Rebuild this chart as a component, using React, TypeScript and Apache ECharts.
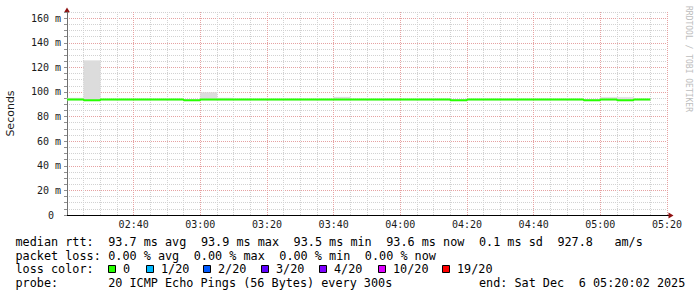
import React, { useEffect, useRef } from 'react';
import * as echarts from 'echarts';

// 5-minute interval boundaries (35 intervals)
const timeBoundaries = [
  '02:20', '02:25', '02:30', '02:35', '02:40', '02:45', '02:50', '02:55',
  '03:00', '03:05', '03:10', '03:15', '03:20', '03:25', '03:30', '03:35',
  '03:40', '03:45', '03:50', '03:55', '04:00', '04:05', '04:10', '04:15',
  '04:20', '04:25', '04:30', '04:35', '04:40', '04:45', '04:50', '04:55',
  '05:00', '05:05', '05:10', '05:15',
];

// median RTT per interval (ms)
const medianRtt = [
  93.9, 93.3, 93.9, 93.9, 93.9, 93.9, 93.9, 93.3,
  93.9, 93.9, 93.9, 93.9, 93.9, 93.9, 93.9, 93.9,
  93.9, 93.9, 93.9, 93.9, 93.9, 93.9, 93.9, 93.3,
  93.9, 93.9, 93.9, 93.9, 93.9, 93.9, 93.9, 93.3,
  93.9, 93.3, 93.9,
];

// smoke (ping spread) per interval (ms)
const smokeMin = [
  93.3, 92.8, 93.3, 93.3, 93.3, 93.3, 93.3, 92.8,
  93.3, 93.3, 93.3, 93.3, 93.3, 93.3, 93.3, 93.3,
  93.3, 93.3, 93.3, 93.3, 93.3, 93.3, 93.3, 92.8,
  93.3, 93.3, 93.3, 93.3, 93.3, 93.3, 93.3, 92.8,
  93.3, 92.8, 93.3,
];
const smokeMax = [
  95.0, 125.5, 94.3, 94.3, 94.3, 94.3, 94.3, 93.8,
  99.6, 95.0, 94.3, 94.3, 94.3, 94.3, 94.3, 94.3,
  95.8, 94.3, 94.3, 94.3, 94.3, 94.3, 94.3, 93.8,
  94.3, 94.3, 94.3, 94.3, 94.3, 94.3, 94.3, 93.8,
  95.6, 95.6, 94.3,
];

const xStart = '02:20';
const xEnd = '05:20';
const yMin = 0;
const yMax = 165;

const statsRttLabel = 'median rtt:';
const statsRtt = ['93.7 ms avg', '93.9 ms max', '93.5 ms min', '93.6 ms now', '0.1 ms sd', '927.8', 'am/s'];
const statsLossLabel = 'packet loss:';
const statsLoss = ['0.00 % avg', '0.00 % max', '0.00 % min', '0.00 % now'];
const lossColorLabel = 'loss color:';
const lossLabels = ['0', '1/20', '2/20', '3/20', '4/20', '10/20', '19/20'];
const lossColors = ['#26ff00', '#00b8ff', '#0059ff', '#5e00ff', '#7e00ff', '#dd00ff', '#ff0000'];
const probeLabel = 'probe:';
const probeText = '20 ICMP Echo Pings (56 Bytes) every 300s';
const endText = ['end: Sat Dec', '6 05:20:02 2025'];
const yAxisName = 'Seconds';
const watermark = 'RRDTOOL / TOBI OETIKER';

const toMin = (s: string) => {
  const [h, m] = s.split(':').map(Number);
  return h * 60 + m;
};

const MONO = '"DejaVu Sans Mono", monospace';
const MAJOR = '#e6a2a2';
const MINOR = '#d2d2d2';

export default function App() {
  const ref = useRef<HTMLDivElement>(null);

  useEffect(() => {
    if (!ref.current) return;
    const chart = echarts.init(ref.current, null, { renderer: 'svg' });

    const last = medianRtt.length - 1;
    const pick = (arr: number[], i: number) => arr[Math.min(i, last)];
    const medianData = timeBoundaries.map((t, i) => [toMin(t), pick(medianRtt, i)]);
    const smokeData = medianRtt.map((_, i) => [
      toMin(timeBoundaries[i]),
      toMin(timeBoundaries[i + 1]),
      smokeMin[i],
      smokeMax[i],
    ]);

    const colX = (c: number) => 15.5 + c * 7.13;
    const rowY = [241.5, 255.5, 269, 283];
    const txt = (text: string, x: number, y: number, extra: any = {}) => ({
      type: 'text',
      x,
      y,
      silent: true,
      style: { text, font: `11.8px ${MONO}`, fill: '#000', align: 'left', verticalAlign: 'middle', ...extra },
    });

    const graphics: any[] = [];
    graphics.push(txt(statsRttLabel, colX(0), rowY[0]));
    [13, 26, 39, 52, 65, 76, 84].forEach((c, i) => graphics.push(txt(statsRtt[i], colX(c), rowY[0])));
    graphics.push(txt(statsLossLabel, colX(0), rowY[1]));
    [13, 25, 37, 49].forEach((c, i) => graphics.push(txt(statsLoss[i], colX(c), rowY[1])));
    graphics.push(txt(lossColorLabel, colX(0), rowY[2]));
    const boxX = [108, 146, 203, 261, 319, 378, 442];
    lossLabels.forEach((l, i) => {
      graphics.push({
        type: 'rect',
        silent: true,
        shape: { x: boxX[i] + 0.5, y: 265.5, width: 7, height: 7 },
        style: { fill: lossColors[i], stroke: '#000', lineWidth: 1 },
      });
      graphics.push(txt(l, boxX[i] + 15, rowY[2]));
    });
    graphics.push(txt(probeLabel, colX(0), rowY[3]));
    graphics.push(txt(probeText, colX(13), rowY[3]));
    graphics.push(txt(endText[0], colX(65), rowY[3]));
    graphics.push(txt(endText[1], colX(79), rowY[3]));

    // watermark
    graphics.push({
      type: 'text',
      x: 688,
      y: 59,
      rotation: -Math.PI / 2,
      silent: true,
      style: { text: watermark, font: `8px ${MONO}`, fill: '#bdbdbd', align: 'center', verticalAlign: 'middle' },
    });
    // axis arrows
    graphics.push({
      type: 'polygon',
      silent: true,
      shape: { points: [[64, 12.5], [70, 12.5], [67, 7.5]] },
      style: { fill: '#8f1010' },
    });
    graphics.push({
      type: 'line',
      silent: true,
      shape: { x1: 667, y1: 215.5, x2: 669, y2: 215.5 },
      style: { stroke: '#000', lineWidth: 1 },
    });
    graphics.push({
      type: 'polygon',
      silent: true,
      shape: { points: [[668.5, 212.5], [668.5, 218.5], [673.5, 215.5]] },
      style: { fill: '#8f1010' },
    });

    const option: any = {
      animation: false,
      backgroundColor: '#ffffff',
      grid: { left: 67, right: 30, top: 12, bottom: 82, outerBoundsMode: 'none', containLabel: false },
      xAxis: {
        type: 'value',
        min: toMin(xStart),
        max: toMin(xEnd),
        interval: 5,
        axisLine: { show: true, onZero: false, lineStyle: { color: '#000', width: 1 } },
        axisTick: { show: false },
        axisLabel: {
          showMinLabel: false,
          showMaxLabel: true,
          margin: 4,
          fontFamily: MONO,
          fontSize: 10,
          color: '#1a1a1a',
          formatter: (v: number) => {
            const r = Math.round(v);
            if (r % 20 !== 0) return '';
            const h = Math.floor(r / 60);
            const m = r % 60;
            return `${String(h).padStart(2, '0')}:${String(m).padStart(2, '0')}`;
          },
        },
        splitLine: { show: true, lineStyle: { type: 'dotted', width: 1, color: [MAJOR, MINOR, MINOR, MINOR] } },
      },
      yAxis: {
        type: 'value',
        min: yMin,
        max: yMax,
        interval: 5,
        name: yAxisName,
        nameLocation: 'middle',
        nameGap: 51,
        nameTextStyle: { fontFamily: '"DejaVu Sans", sans-serif', fontSize: 11, color: '#1a1a1a' },
        axisLine: { show: true, lineStyle: { color: '#707070', width: 1 } },
        axisTick: { show: true, length: 3, lineStyle: { color: '#909090' } },
        axisLabel: {
          margin: 6,
          fontFamily: MONO,
          fontSize: 10,
          color: '#1a1a1a',
          formatter: (v: number) => {
            const r = Math.round(v);
            if (r % 20 !== 0) return '';
            if (r === 0) return '{z|0}';
            return `${r} m`;
          },
          rich: { z: { fontFamily: MONO, fontSize: 10, color: '#1a1a1a', padding: [0, 7, 0, 0] } },
        },
        splitLine: { show: true, lineStyle: { type: 'dotted', width: 1, color: [MAJOR, MINOR, MINOR, MINOR] } },
      },
      graphic: graphics,
      series: [
        {
          name: 'smoke',
          type: 'custom',
          data: smokeData,
          encode: { x: [0, 1], y: [2, 3] },
          silent: true,
          z: 2,
          renderItem: (params: any, api: any) => {
            const p1 = api.coord([api.value(0), api.value(3)]);
            const p2 = api.coord([api.value(1), api.value(2)]);
            return {
              type: 'rect',
              shape: { x: p1[0], y: p1[1], width: p2[0] - p1[0], height: p2[1] - p1[1] },
              style: { fill: '#dcdcdc', stroke: '#dcdcdc', lineWidth: 0.4 },
            };
          },
        },
        {
          name: 'median rtt',
          type: 'line',
          step: 'end',
          data: medianData,
          symbol: 'none',
          silent: true,
          lineStyle: { color: '#26ff00', width: 2 },
          z: 3,
        },
      ],
    };

    chart.setOption(option);
    return () => chart.dispose();
  }, []);

  return (
    <div
      ref={ref}
      style={{ position: 'fixed', left: 0, top: 0, width: 697, height: 297, background: '#fff' }}
    />
  );
}
